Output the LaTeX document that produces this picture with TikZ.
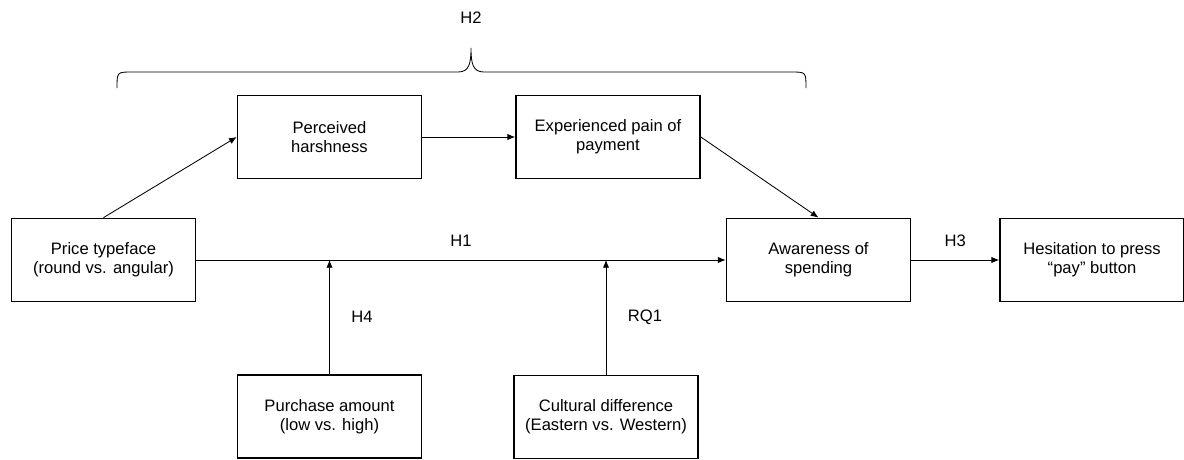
\documentclass[tikz,border=0pt]{standalone}
\usepackage{fontspec}
\setmainfont{Liberation Sans}
\usetikzlibrary{arrows.meta}

\tikzset{
   varbox/.style={draw=black,line width=1.1pt,minimum width=4.6cm,minimum height=2.08cm,
      align=center,font=\fontsize{11.8}{13.6}\selectfont,inner sep=2pt},
   link/.style={draw=black,line width=0.6pt,-{Latex[length=5.5pt,width=4.5pt]}},
   hyp/.style={font=\fontsize{11.8}{13.6}\selectfont}
}

\begin{document}
\begin{tikzpicture}[x=0.025cm,y=-0.025cm]

   \useasboundingbox (0,0) rectangle (1184,460);

   % variables
   \node[varbox] (price) at (103.5,260) {Price typeface\\(round vs. angular)};
   \node[varbox] (harsh) at (329.5,137) {Perceived\\harshness};
   \node[varbox] (pain) at (608,137) {Experienced pain of\\payment};
   \node[varbox] (aware) at (818.5,260) {Awareness of\\spending};
   \node[varbox] (hesit) at (1092,260) {Hesitation to press\\``pay'' button};
   \node[varbox] (amount) at (329.5,416.5) {Purchase amount\\(low vs. high)};
   \node[varbox] (culture) at (606,417) {Cultural difference\\(Eastern vs. Western)};

   % paths
   \draw[link] (price.north) -- (harsh.west);
   \draw[link] (harsh.east) -- (pain.west);
   \draw[link] (pain.east) -- (aware.north);
   \draw[link] (price.east) -- node[hyp,above=6pt] (h1) {H1} (aware.west);
   \draw[link] (aware.east) -- node[hyp,above=6pt] (h3) {H3} (hesit.west);

   % moderators
   \coordinate (hitamount) at (amount.north |- price.east);
   \coordinate (hitculture) at (culture.north |- price.east);
   \draw[link] (amount.north) -- node[hyp,right=12pt] (h4) {H4} (hitamount);
   \draw[link] (culture.north) -- node[hyp,right=12pt] (rq1) {RQ1} (hitculture);

   % brace over the mediators
   \draw[line width=0.6pt] (117,88) .. controls (117,72) .. (132,72) -- (458,72)
      .. controls (469,72) and (471,64) .. (471,48)
      .. controls (471,64) and (473,72) .. (484,72) -- (791,72)
      .. controls (806,72) .. (806,88);
   \node[hyp] (h2) at (471,18) {H2};

\end{tikzpicture}
\end{document}
